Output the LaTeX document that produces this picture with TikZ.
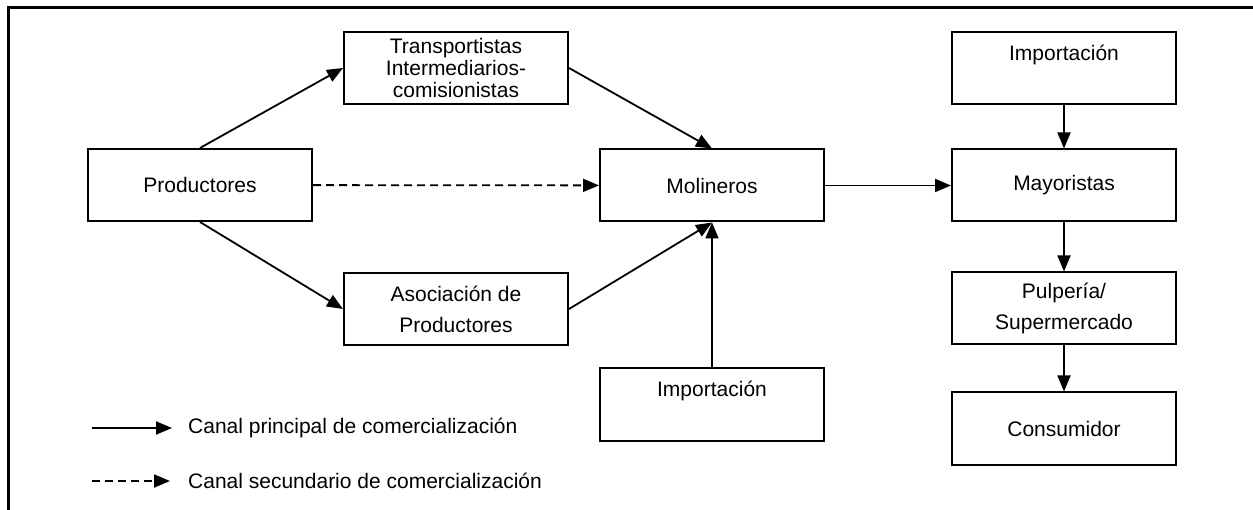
\documentclass[tikz,border=0pt]{standalone}
\usepackage{fontspec}
\setmainfont{Liberation Sans}
\usetikzlibrary{arrows.meta,positioning}
\tikzset{
    caja/.style={draw, line width=2pt, minimum width=224pt, minimum height=72pt,
        inner sep=0pt, align=center, font=\fontsize{21}{31}\selectfont},
    flecha/.style={-{Triangle[length=16pt,width=13pt]}, line width=1.8pt},
    secundario/.style={flecha, dash pattern=on 8pt off 5pt}
}
\begin{document}
\begin{tikzpicture}[x=1pt, y=-1pt]

        \useasboundingbox (0,0) rectangle (1253,510);

        % Marco
        \draw[line width=3pt] (8,510) -- (8,8) -- (1253,8);

        % Productores e intermediarios
        \node[caja] (Productores) at (200,185) {Productores};
        \node[caja, font=\fontsize{21}{22}\selectfont] (Transportistas) at (456,68)
            {Transportistas\\Intermediarios-\\comisionistas};
        \node[caja] (Asociacion) at (456,309) {Asociación de\\Productores};

        % Molineros
        \node[caja] (Molineros) at (712,185.5) {Molineros};
        \node[caja] (ImportacionB) at (712,404.5) {Importación\\~};

        % Columna de la derecha
        \node[caja] (ImportacionA) at (1064,68) {Importación\\~};
        \node[caja] (Mayoristas) at (1064,185.5) {Mayoristas};
        \node[caja] (Pulperia) at (1064,308.5) {Pulpería/\\Supermercado};
        \node[caja] (Consumidor) at (1064,428.5) {Consumidor};

        % Canales
        \draw[flecha] (Productores.north) -- (Transportistas.west);
        \draw[flecha] (Transportistas.east) -- (Molineros.north);
        \draw[flecha] (Productores.south) -- (Asociacion.west);
        \draw[flecha] (Asociacion.east) -- (Molineros.south);
        \draw[flecha] (ImportacionB) -- (Molineros);
        \draw[secundario] (Productores) -- (Molineros);
        \draw[flecha] (Molineros) -- (Mayoristas);

        \foreach \a/\b in {ImportacionA/Mayoristas, Mayoristas/Pulperia, Pulperia/Consumidor}
        {
            \draw[flecha] (\a) -- (\b);
        }

        % Leyenda
        \coordinate (Principal-ini) at (92,428);
        \coordinate (Principal-fin) at (172,428);
        \coordinate (Secundario-ini) at (92,481);
        \coordinate (Secundario-fin) at (170,481);
        \node[anchor=west, inner sep=0pt, font=\fontsize{21}{31}\selectfont] (Principal) at (188,428)
            {Canal principal de comercialización};
        \node[anchor=west, inner sep=0pt, font=\fontsize{21}{31}\selectfont] (Secundario) at (188,481)
            {Canal secundario de comercialización};
        \draw[flecha] (Principal-ini) -- (Principal-fin);
        \draw[secundario] (Secundario-ini) -- (Secundario-fin);

\end{tikzpicture}
\end{document}
